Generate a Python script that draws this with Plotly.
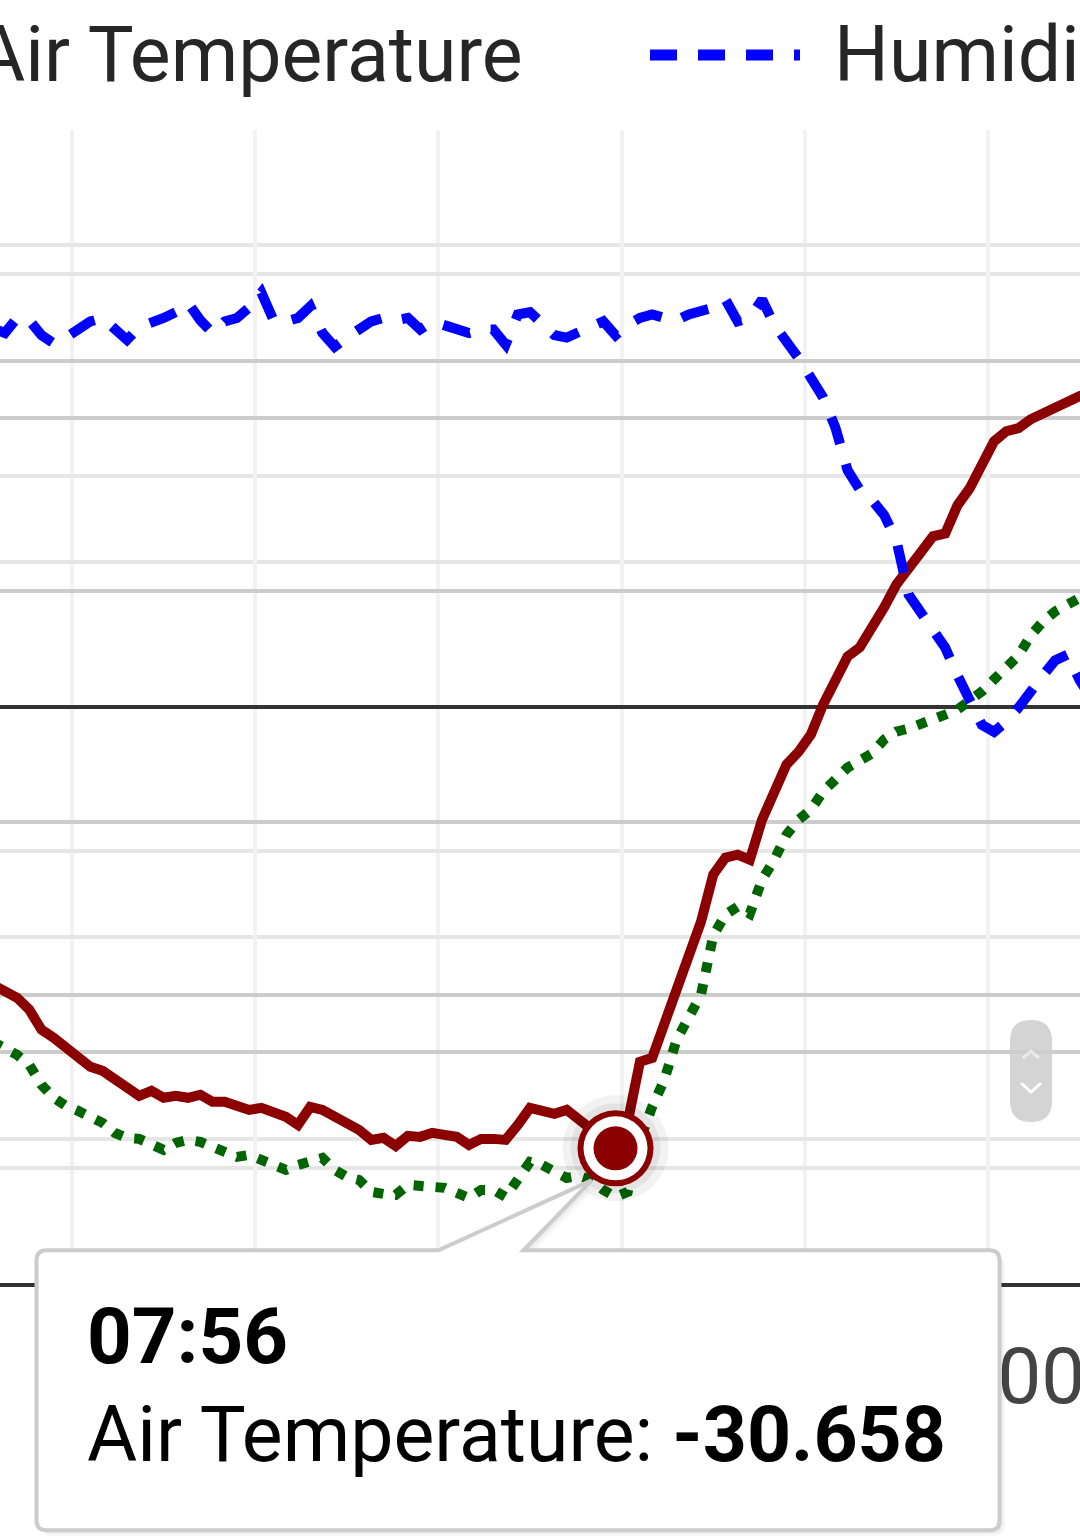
import pandas as pd
import plotly.graph_objects as go

# ---------------- data ----------------
times = pd.date_range("2024-01-01 01:08", periods=91, freq="8min").strftime("%Y-%m-%d %H:%M").tolist()

air_temperature = [
    -19.31, -19.79, -20.21, -21.04, -22.43, -22.99, -23.68, -24.38, -25.00, -25.28,
    -25.90, -26.60, -27.01, -26.67, -27.15, -27.01, -27.15, -26.94, -27.43, -27.43,
    -27.78, -27.99, -27.85, -28.13, -28.47, -29.03, -27.78, -27.99, -28.47, -28.82,
    -29.38, -30.07, -29.93, -30.49, -29.79, -29.86, -29.58, -29.72, -29.86, -30.42,
    -30.00, -30.00, -30.07, -29.03, -27.85, -28.06, -28.26, -27.99, -28.61, -29.24,
    -29.93, -30.658, -28.82, -24.65, -24.38, -22.08, -20.00, -17.71, -14.93, -11.67,
    -10.49, -10.28, -10.63, -7.85, -5.76, -4.03, -3.13, -1.94, 0.14, 1.88,
    3.47, 4.10, 5.35, 6.88, 8.47, 9.65, 10.56, 11.81, 12.01, 13.96,
    15.14, 16.60, 18.40, 19.10, 19.31, 19.93, 20.35, 20.76, 21.18, 21.53, 21.81,
]

humidity = [
    82.8, 82.4, 83.7, 83.5, 82.2, 81.5, 82.0, 82.7, 83.4, 83.7,
    82.8, 81.8, 82.9, 83.2, 83.7, 84.2, 85.0, 83.5, 82.4, 83.4,
    83.7, 84.6, 85.9, 83.5, 83.4, 83.7, 84.7, 82.4, 81.2, 82.0,
    82.7, 83.4, 83.7, 83.5, 83.7, 82.7, 83.4, 83.1, 82.7, 82.4,
    82.7, 82.7, 81.4, 84.0, 84.2, 83.1, 82.2, 82.0, 82.5, 82.8,
    83.4, 82.2, 83.1, 83.7, 84.0, 83.7, 83.5, 84.0, 84.2, 84.6,
    85.3, 83.4, 83.7, 85.3, 83.1, 81.8, 80.2, 78.5, 76.8, 74.2,
    70.5, 68.8, 67.9, 66.6, 64.4, 59.7, 58.2, 56.5, 55.1, 52.7,
    50.4, 48.4, 47.8, 48.7, 49.9, 51.4, 52.7, 54.0, 54.5, 52.3, 50.6,
]

dew_point = [
    -23.26, -23.68, -24.17, -24.86, -26.25, -27.15, -27.71, -28.06, -28.40, -28.89,
    -29.58, -29.93, -30.00, -30.35, -30.76, -30.28, -30.07, -30.21, -30.49, -30.90,
    -31.25, -31.11, -31.46, -31.81, -32.15, -31.81, -31.53, -31.32, -32.15, -32.64,
    -32.85, -33.68, -33.82, -33.89, -33.19, -33.26, -33.33, -33.40, -33.75, -34.10,
    -33.54, -33.54, -34.03, -32.85, -31.60, -31.81, -32.29, -32.71, -32.57, -32.85,
    -33.54, -34.03, -33.68, -30.07, -27.78, -25.90, -23.13, -21.60, -20.00, -15.90,
    -14.44, -13.89, -14.38, -12.01, -10.63, -8.89, -7.85, -7.15, -5.90, -5.07,
    -4.24, -3.75, -3.26, -2.29, -1.74, -1.53, -1.25, -0.90, -0.56, -0.21,
    0.35, 1.04, 1.88, 2.78, 3.54, 4.93, 5.90, 6.60, 7.08, 7.57, 7.99,
]

series_names = ["Air Temperature", "Humidity", "Dew Point"]
hover_time = "2024-01-01 07:56"

x_range = ["2024-01-01 01:12:48", "2024-01-01 13:00:16"]
temp_range = [-40, 40]
hum_range = [0, 100]

# ---------------- layout constants ----------------
W, H = 1080, 1540
M_T, M_B = 130, 257
FONT = "Roboto"
RED, BLUE, GREEN = "#8B0000", "#0000FF", "#006400"

tip_i = times.index(hover_time)
tip_x, tip_y = times[tip_i], air_temperature[tip_i]

fig = go.Figure()
fig.add_trace(go.Scatter(x=times, y=air_temperature, name=series_names[0], mode="lines",
                         line=dict(color=RED, width=10), yaxis="y", hoverinfo="skip"))
fig.add_trace(go.Scatter(x=times, y=humidity, name=series_names[1], mode="lines",
                         line=dict(color=BLUE, width=10, dash="28px,21px"), yaxis="y2", hoverinfo="skip"))
fig.add_trace(go.Scatter(x=times, y=dew_point, name=series_names[2], mode="lines",
                         line=dict(color=GREEN, width=10, dash="10px,12px"), yaxis="y", hoverinfo="skip"))

# hovered-point marker (halo + ring)
for size, color in [(106, "rgba(0,0,0,0.05)"), (90, "rgba(0,0,0,0.06)"),
                    (76, RED), (64, "#FFFFFF"), (44, RED)]:
    fig.add_trace(go.Scatter(x=[tip_x], y=[tip_y], mode="markers",
                             marker=dict(size=size, color=color, line=dict(width=0)),
                             yaxis="y", hoverinfo="skip", showlegend=False))

# anchor of the hovered point in paper coordinates
t0, t1 = pd.Timestamp(x_range[0]), pd.Timestamp(x_range[1])
ax_p = (pd.Timestamp(tip_x) - t0) / (t1 - t0)
ay_p = (tip_y - temp_range[0]) / (temp_range[1] - temp_range[0])
plot_h = H - M_T - M_B

tip_path = ("M -569,-102 L -177,-102 L -24,-32 L -92,-102 L 374,-102 Q 384,-102 384,-112 "
            "L 384,-372 Q 384,-382 374,-382 L -569,-382 Q -579,-382 -579,-372 "
            "L -579,-112 Q -579,-102 -569,-102 Z")

shapes = []
# tooltip shadow
for d, op in [(6, 0.025), (4, 0.035), (2, 0.05)]:
    shapes.append(dict(type="path", xref="paper", yref="paper", xsizemode="pixel", ysizemode="pixel",
                       xanchor=ax_p + d / W, yanchor=ay_p - d / plot_h, path=tip_path,
                       fillcolor=f"rgba(0,0,0,{op})", line=dict(width=0), layer="above"))
# tooltip box with callout
shapes.append(dict(type="path", xref="paper", yref="paper", xsizemode="pixel", ysizemode="pixel",
                   xanchor=ax_p, yanchor=ay_p, path=tip_path,
                   fillcolor="#FFFFFF", line=dict(color="#cccccc", width=4), layer="above"))

base_y = H - M_B  # pixel row of the x axis


def py(v):
    return base_y - v


# legend sample for Humidity
shapes.append(dict(type="line", xref="paper", yref="paper", xsizemode="pixel", ysizemode="pixel",
                   xanchor=0, yanchor=0, x0=650, x1=800, y0=py(55), y1=py(55),
                   line=dict(color=BLUE, width=11, dash="27px,21px"), layer="above"))

# floating scroll pill (page overlay)
shapes.append(dict(type="path", xref="paper", yref="paper", xsizemode="pixel", ysizemode="pixel",
                   xanchor=0, yanchor=0,
                   path=f"M 1010,{py(1041)} Q 1010,{py(1020)} 1031,{py(1020)} Q 1052,{py(1020)} 1052,{py(1041)} "
                        f"L 1052,{py(1101)} Q 1052,{py(1122)} 1031,{py(1122)} Q 1010,{py(1122)} 1010,{py(1101)} Z",
                   fillcolor="rgba(205,205,205,0.85)", line=dict(width=0), layer="above"))
shapes.append(dict(type="path", xref="paper", yref="paper", xsizemode="pixel", ysizemode="pixel",
                   xanchor=0, yanchor=0,
                   path=f"M 1023,{py(1058)} L 1031,{py(1051)} L 1039,{py(1058)}",
                   fillcolor="rgba(0,0,0,0)", line=dict(color="rgba(255,255,255,0.55)", width=3), layer="above"))
shapes.append(dict(type="path", xref="paper", yref="paper", xsizemode="pixel", ysizemode="pixel",
                   xanchor=0, yanchor=0,
                   path=f"M 1021,{py(1083)} L 1031,{py(1092)} L 1041,{py(1083)}",
                   fillcolor="rgba(0,0,0,0)", line=dict(color="#FFFFFF", width=3), layer="above"))

annotations = [
    # legend texts
    dict(text=series_names[0], xref="paper", yref="paper", x=-27 / W, y=(base_y - 55) / plot_h,
         xanchor="left", yanchor="middle", showarrow=False, font=dict(family=FONT, size=77, color="#262626")),
    dict(text=series_names[1], xref="paper", yref="paper", x=832 / W, y=(base_y - 55) / plot_h,
         xanchor="left", yanchor="middle", showarrow=False, font=dict(family=FONT, size=77, color="#262626")),
    # tooltip texts
    dict(text=f"<b>{tip_x[11:16]}</b>", xref="x", yref="y", x=tip_x, y=tip_y,
         xshift=-531, yshift=-188, xanchor="left", yanchor="middle", showarrow=False,
         font=dict(family=FONT, size=78, color="#000000")),
    dict(text=f"{series_names[0]}: <b>{tip_y:.3f}</b>", xref="x", yref="y", x=tip_x, y=tip_y,
         xshift=-531, yshift=-287, xanchor="left", yanchor="middle", showarrow=False,
         font=dict(family=FONT, size=77, color="#000000")),
]

fig.update_layout(
    width=W, height=H,
    margin=dict(l=0, r=0, t=M_T, b=M_B, autoexpand=False),
    paper_bgcolor="#FFFFFF", plot_bgcolor="#FFFFFF",
    font=dict(family=FONT, size=78, color="#333333"),
    showlegend=False,
    hovermode=False,
    xaxis=dict(type="date", range=x_range, tick0="2024-01-01 00:00", dtick=4 * 3600000,
               tickformat="%H:%M", tickangle=0, ticks="", ticklabeloverflow="allow",
               ticklabelstandoff=22, tickfont=dict(family=FONT, size=78, color="#444444"),
               showgrid=True, gridcolor="#f2f2f2", gridwidth=4,
               minor=dict(dtick=2 * 3600000, showgrid=True, gridcolor="#f2f2f2", gridwidth=4),
               showline=True, linecolor="#333333", linewidth=4, zeroline=False),
    yaxis=dict(range=temp_range, tick0=0, dtick=20, showticklabels=False, ticks="",
               showgrid=True, gridcolor="#cccccc", gridwidth=4,
               minor=dict(dtick=10, showgrid=True, gridcolor="#e6e6e6", gridwidth=4),
               zeroline=True, zerolinecolor="#333333", zerolinewidth=4),
    yaxis2=dict(range=hum_range, overlaying="y", side="right", tick0=0, dtick=20,
                showticklabels=False, ticks="",
                showgrid=True, gridcolor="#cccccc", gridwidth=4,
                minor=dict(dtick=10, showgrid=True, gridcolor="#e6e6e6", gridwidth=4),
                zeroline=False),
    shapes=shapes,
    annotations=annotations,
)

fig.write_html("out.html", config={"displayModeBar": False},
               post_script="document.body.style.margin='0px';")
